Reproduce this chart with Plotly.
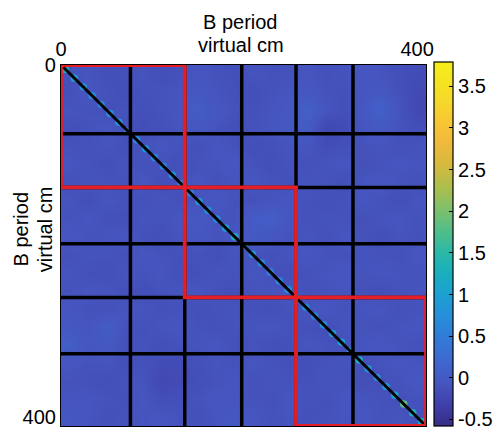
import numpy as np
import plotly.graph_objects as go

# ---- data ----
axis_max = 410
tick_vals = [0, 400]
block_lines = [78, 139, 203, 264, 328]          # black block boundaries
red_blocks = [(0, 139), (139, 264), (264, 410)]  # red squares along diagonal
cbar_ticks = [-0.5, 0, 0.5, 1, 1.5, 2, 2.5, 3, 3.5]
zmin, zmax = -0.58, 3.79

# coarse background (hundredths), rows top->bottom
background = [
    [-10,-8,-14,-12,-9,-15,-11,-6,-10,-13,-8,-12,-10,-7,-12,-9,-5,-8,-14,-16],
    [-12,-6,-10,-15,-11,-9,-7,-2,-8,-12,-14,-10,-6,-4,-10,-12,-6,-2,-12,-20],
    [-8,-10,-12,-9,-14,-10,-6,4,-4,-10,-12,-8,-3,8,-6,-14,-4,10,-8,-22],
    [-14,-9,-6,-11,-16,-12,-8,-4,-9,-14,-10,-6,-2,2,-24,-18,-8,0,-10,-14],
    [-10,-12,-8,-14,-10,-6,-10,-12,-6,-10,-14,-12,-8,-6,-16,-12,-10,-8,-12,-10],
    [-6,-10,-14,-8,-12,-10,-14,-10,-8,-4,-10,-14,-10,-12,-8,-6,-12,-10,-6,-8],
    [-12,-8,-10,-12,-6,-14,-10,-6,-12,-8,-6,-10,-12,-8,-10,-14,-8,-4,-10,-12],
    [-8,-14,-6,-10,-12,-8,-12,-10,-4,-10,-12,-8,-6,-10,-14,-10,-6,-10,-14,-8],
    [-10,-6,-12,-14,-8,-10,-6,-2,-8,-10,2,6,-6,-12,-8,-10,-12,-8,-6,-10],
    [-4,-10,-8,-6,-12,-14,-8,-4,-10,-6,0,-4,-10,-8,-12,-6,-10,-14,-8,-12],
    [-12,-8,-10,-12,-6,-10,-12,-10,-14,-8,-10,-12,-8,-6,-10,-12,-8,-10,-12,-6],
    [-8,-12,-14,-8,-10,-6,-14,-12,-8,-10,-6,-10,-14,-10,-8,-4,-10,-6,-8,-10],
    [-10,-6,-8,-12,-14,-10,-8,-6,-12,-14,-10,-8,-6,-12,-10,-8,-12,-14,-10,-8],
    [-6,-10,-12,-6,-8,-12,-10,-14,-10,-8,-12,-14,-10,-8,-6,-10,-8,-6,-12,-10],
    [-2,-8,4,-10,-12,-8,-6,-10,-12,-10,-8,-6,-10,-12,-14,-8,-10,-12,-8,-6],
    [6,-4,-2,-12,-10,-14,-10,-8,-6,-12,-10,-14,-12,-6,-10,-12,-8,-4,-10,-12],
    [-6,-10,-8,-14,-12,-16,-18,-12,-8,-10,-6,-10,-12,-14,-10,-8,-12,-10,-6,-8],
    [-10,-12,-14,-10,-8,-22,-20,-14,-10,-6,-12,-8,-10,-12,-8,-10,-14,-12,-10,-4],
    [-8,-6,-10,-12,-6,-14,-12,-10,-4,-8,-10,-12,-6,-10,-12,-6,-8,-10,-12,-10],
    [-4,-8,-12,-10,-8,-6,-10,-12,-8,-2,-6,-10,-8,-12,-10,-8,-6,-10,-8,-12],
]

# near-diagonal values (one per 10 virtual cm)
diag_vals = [1.2,1.0,0.8,0.7,0.6,0.7,0.8,0.6,0.7,0.8,
             0.7,0.6,0.8,0.7,0.6,0.9,0.8,0.7,1.0,1.3,
             1.2,0.8,0.7,0.6,0.7,0.8,0.9,0.7,0.6,0.8,
             0.9,1.0,1.1,1.2,0.8,0.7,0.9,1.1,1.8,1.3,1.1]

# parula-like colour scale (as rendered in the reference)
parula = [
    [0.00, "rgb(55,45,135)"], [0.06, "rgb(64,64,170)"], [0.12, "rgb(70,86,192)"],
    [0.18, "rgb(62,104,208)"], [0.24, "rgb(50,122,216)"], [0.30, "rgb(38,142,218)"],
    [0.36, "rgb(28,160,210)"], [0.42, "rgb(25,175,190)"], [0.48, "rgb(45,185,165)"],
    [0.54, "rgb(85,190,135)"], [0.60, "rgb(130,192,105)"], [0.66, "rgb(175,190,75)"],
    [0.72, "rgb(215,185,60)"], [0.78, "rgb(240,185,60)"], [0.84, "rgb(248,200,50)"],
    [0.90, "rgb(245,218,40)"], [1.00, "rgb(245,238,25)"],
]

# ---- build ----
z_bg = np.array(background, dtype=float) / 100.0
n = z_bg.shape[0]
cell = axis_max / n
centers = [cell / 2 + i * cell for i in range(n)]

diag_step = axis_max / len(diag_vals)
diag_pos = [diag_step / 2 + i * diag_step for i in range(len(diag_vals))]

fig = go.Figure()
fig.add_trace(go.Heatmap(z=z_bg, x=centers, y=centers, coloraxis="coloraxis",
                         zsmooth="best", hoverinfo="skip"))
fig.add_trace(go.Scatter(x=diag_pos, y=diag_pos, mode="markers",
                         marker=dict(size=7.5, color=diag_vals, coloraxis="coloraxis",
                                     line=dict(width=0)),
                         hoverinfo="skip", showlegend=False))

shapes = []
for b in block_lines:
    shapes.append(dict(type="line", xref="x", yref="y", x0=b, x1=b, y0=0, y1=axis_max,
                       line=dict(color="black", width=3.5)))
    shapes.append(dict(type="line", xref="x", yref="y", x0=0, x1=axis_max, y0=b, y1=b,
                       line=dict(color="black", width=3.5)))
shapes.append(dict(type="line", xref="x", yref="y", x0=0, y0=0, x1=axis_max, y1=axis_max,
                   line=dict(color="black", width=3)))
for a, b in red_blocks:
    shapes.append(dict(type="rect", xref="x", yref="y", x0=a, x1=b, y0=a, y1=b,
                       line=dict(color="rgb(228,30,36)", width=3.8)))

font_family = "Liberation Sans, Arial, Helvetica, sans-serif"
fig.update_layout(
    width=501, height=431,
    margin=dict(l=61, r=74, t=65, b=3),
    plot_bgcolor="white", paper_bgcolor="white",
    font=dict(family=font_family, size=20, color="black"),
    shapes=shapes,
    showlegend=False,
    coloraxis=dict(
        colorscale=parula, cmin=zmin, cmax=zmax,
        colorbar=dict(
            thickness=19, thicknessmode="pixels",
            len=364, lenmode="pixels",
            x=1.022, xanchor="left", y=1.008, yanchor="top",
            xpad=0, ypad=0,
            outlinewidth=1.2, outlinecolor="black",
            ticks="inside", ticklen=4, tickcolor="black", tickwidth=1.2,
            tickvals=cbar_ticks, ticktext=[f"{v:g}" for v in cbar_ticks],
            ticklabeloverflow="allow",
            tickfont=dict(size=20, family=font_family),
        ),
    ),
    xaxis=dict(range=[0, axis_max], side="top", tickvals=tick_vals,
               showgrid=False, zeroline=False, showline=True, mirror=True,
               linecolor="black", linewidth=1.2, ticks=""),
    yaxis=dict(range=[axis_max, 0], tickvals=tick_vals,
               showgrid=False, zeroline=False, showline=True, mirror=True,
               linecolor="black", linewidth=1.2, ticks=""),
    annotations=[
        dict(text="B period", xref="paper", yref="paper", x=0.492, y=1.118,
             xanchor="center", yanchor="middle", showarrow=False),
        dict(text="virtual cm", xref="paper", yref="paper", x=0.492, y=1.055,
             xanchor="center", yanchor="middle", showarrow=False),
        dict(text="B period", xref="paper", yref="paper", x=-0.109, y=0.545,
             xanchor="center", yanchor="middle", textangle=-90, showarrow=False),
        dict(text="virtual cm", xref="paper", yref="paper", x=-0.044, y=0.545,
             xanchor="center", yanchor="middle", textangle=-90, showarrow=False),
    ],
)

fig.write_html("out.html")
